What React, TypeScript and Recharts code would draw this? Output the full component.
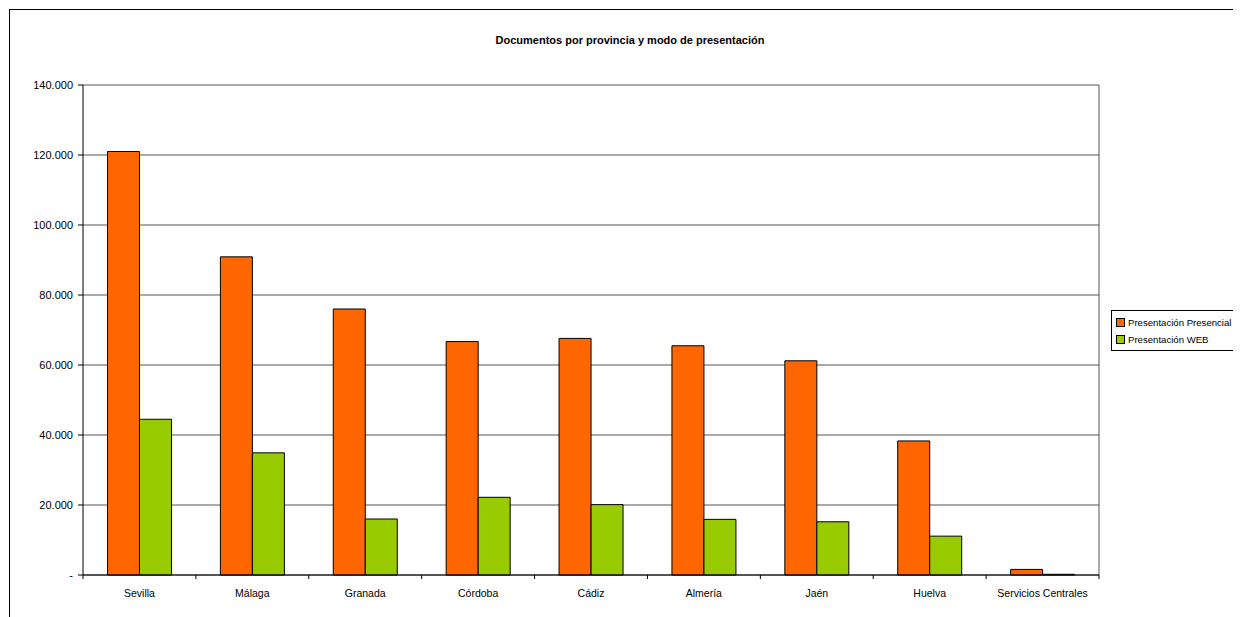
import { BarChart, Bar, XAxis, YAxis, CartesianGrid } from "recharts"

const provincias = [
  "Sevilla",
  "Málaga",
  "Granada",
  "Córdoba",
  "Cádiz",
  "Almería",
  "Jaén",
  "Huelva",
  "Servicios Centrales",
]
const presencial = [121000, 90900, 76000, 66700, 67600, 65500, 61200, 38300, 1600]
const web = [44500, 34900, 16000, 22200, 20100, 15900, 15200, 11100, 200]
const yTicks = [0, 20000, 40000, 60000, 80000, 100000, 120000, 140000]

const series = [
  { key: "presencial", name: "Presentación Presencial", color: "#FF6600" },
  { key: "web", name: "Presentación WEB", color: "#99CC00" },
]

const data = provincias.map((name, i) => ({
  name,
  presencial: presencial[i],
  web: web[i],
}))

const FONT = "'Liberation Sans', Arial, sans-serif"
const LABEL_GAP = 15

const fmt = (v: number) => (v === 0 ? "-" : v.toLocaleString("de-DE"))

// label centred in the band plus a tick mark at the band edges, like Excel
function CategoryTick(props: any) {
  const { x, y, payload, width, visibleTicksCount, index } = props
  const band = width / visibleTicksCount
  const axisY = y - LABEL_GAP
  const left = x - band / 2
  const right = x + band / 2
  return (
    <g>
      <line x1={left} x2={left} y1={axisY} y2={axisY + 4} stroke="#000" />
      {index === visibleTicksCount - 1 && (
        <line x1={right} x2={right} y1={axisY} y2={axisY + 4} stroke="#000" />
      )}
      <text x={x} y={y} dy="0.71em" textAnchor="middle" fill="#000" fontSize={10.5} fontFamily={FONT}>
        {payload.value}
      </text>
    </g>
  )
}

function LegendBox() {
  return (
    <div
      style={{
        position: "absolute",
        left: 1101,
        top: 300,
        boxSizing: "border-box",
        width: 131,
        border: "1px solid #000",
        background: "#fff",
        padding: "3px 1px 2px 4px",
        fontFamily: FONT,
        fontSize: 9.6,
        whiteSpace: "nowrap",
      }}
    >
      {series.map((s) => (
        <div key={s.key} style={{ display: "flex", alignItems: "center", height: 17 }}>
          <span
            style={{
              display: "inline-block",
              width: 7,
              height: 7,
              background: s.color,
              border: "1px solid #000",
              marginRight: 3,
            }}
          />
          <span>{s.name}</span>
        </div>
      ))}
    </div>
  )
}

export default function App() {
  return (
    <div
      style={{
        position: "relative",
        width: 1232,
        height: 608,
        marginLeft: 1,
        marginTop: 1,
        borderTop: "1px solid #000",
        borderLeft: "1px solid #000",
        fontFamily: FONT,
      }}
    >
      <div
        style={{
          position: "absolute",
          top: 24,
          left: 0,
          width: 1240,
          textAlign: "center",
          fontWeight: "bold",
          fontSize: 11,
        }}
      >
        Documentos por provincia y modo de presentación
      </div>
      <BarChart
        width={1231}
        height={607}
        data={data}
        barGap={0}
        barCategoryGap="21.7%"
        margin={{ top: 75, right: 142, left: 0, bottom: 12 }}
      >
        <CartesianGrid
          stroke="#555"
          horizontal={true}
          vertical={true}
          verticalCoordinatesGenerator={({ offset }: any) => [offset.left + offset.width]}
        />
        <XAxis
          dataKey="name"
          interval={0}
          tickLine={false}
          tickSize={0}
          tickMargin={LABEL_GAP}
          axisLine={{ stroke: "#000" }}
          height={30}
          tick={<CategoryTick />}
        />
        <YAxis
          domain={[0, 140000]}
          ticks={yTicks}
          tickFormatter={fmt}
          width={73}
          tickSize={5}
          tickMargin={5}
          axisLine={{ stroke: "#000" }}
          tickLine={{ stroke: "#000" }}
          tick={{ fill: "#000", fontSize: 11, fontFamily: FONT }}
        />
        {series.map((s) => (
          <Bar
            key={s.key}
            dataKey={s.key}
            name={s.name}
            fill={s.color}
            stroke="#000"
            strokeWidth={1}
            isAnimationActive={false}
          />
        ))}
      </BarChart>
      <LegendBox />
    </div>
  )
}
